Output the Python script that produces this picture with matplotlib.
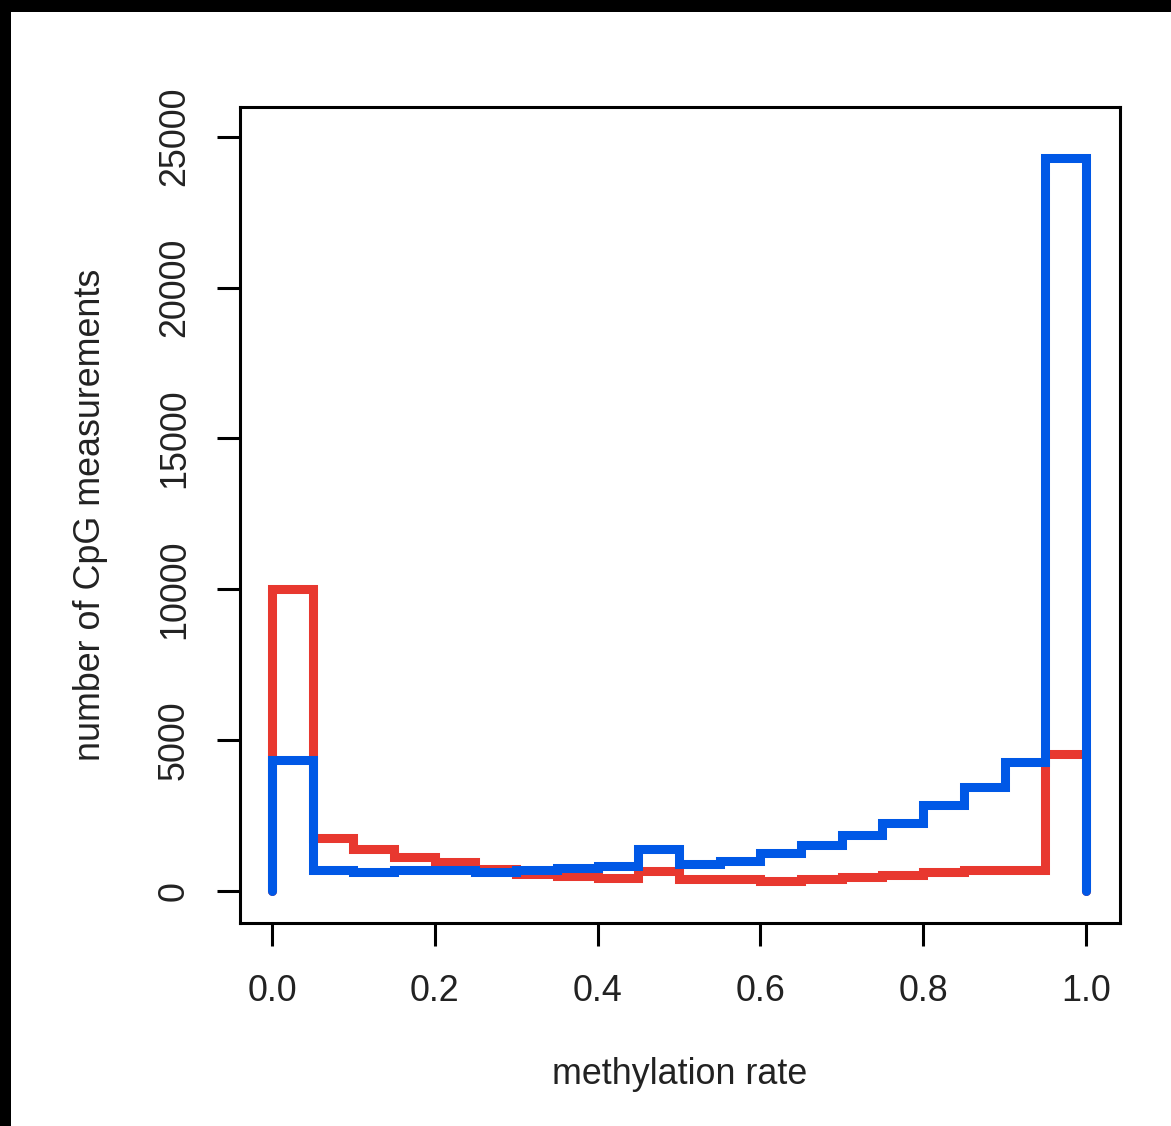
import numpy as np
import matplotlib
matplotlib.use("Agg")
import matplotlib.pyplot as plt
from matplotlib.patches import Rectangle

plt.rcParams['font.family'] = ['Liberation Sans', 'DejaVu Sans']

# Histogram data: bins of width 0.05 over [0, 1]
bin_edges = [0.00, 0.05, 0.10, 0.15, 0.20, 0.25, 0.30, 0.35, 0.40, 0.45, 0.50,
             0.55, 0.60, 0.65, 0.70, 0.75, 0.80, 0.85, 0.90, 0.95, 1.00]
red_counts = [10000, 1750, 1390, 1120, 975, 745, 570, 510, 420, 660,
              405, 405, 345, 400, 475, 545, 613, 690, 690, 4550]
blue_counts = [4350, 686, 620, 686, 686, 615, 700, 760, 815, 1395,
               885, 995, 1270, 1520, 1860, 2255, 2860, 3431, 4270, 24300]

x_ticks = [0.0, 0.2, 0.4, 0.6, 0.8, 1.0]
x_tick_labels = ["0.0", "0.2", "0.4", "0.6", "0.8", "1.0"]
y_ticks = [0, 5000, 10000, 15000, 20000, 25000]
y_tick_labels = ["0", "5000", "10000", "15000", "20000", "25000"]

RED = "#E8382F"
BLUE = "#0058E6"

W, H = 1171, 1126
fig = plt.figure(figsize=(W / 100, H / 100), dpi=100)
fig.patch.set_facecolor("white")

# black border strips (top and left)
fig.patches.append(Rectangle((0, 1 - 12 / H), 1, 12 / H, transform=fig.transFigure,
                             facecolor="black", edgecolor="none", zorder=-1))
fig.patches.append(Rectangle((0, 0), 11 / W, 1, transform=fig.transFigure,
                             facecolor="black", edgecolor="none", zorder=-1))

ax = fig.add_axes([240 / W, (H - 923) / H, 880 / W, 816 / H])

for counts, color in [(red_counts, RED), (blue_counts, BLUE)]:
    st = ax.stairs(counts, bin_edges, baseline=0, fill=False, color=color, linewidth=6.5)
    st.set_capstyle("round")
    st.set_joinstyle("miter")

ax.set_xlim(-0.0393, 1.0418)
ax.set_ylim(-1061, 25986)

ax.set_xticks(x_ticks)
ax.set_xticklabels(x_tick_labels)
ax.set_yticks(y_ticks)
ax.set_yticklabels(y_tick_labels, rotation=90, va="center")

for s in ax.spines.values():
    s.set_linewidth(2.2)
    s.set_color("black")

FS = 25.8
ax.tick_params(axis="both", length=16.5, width=2.2, color="black",
               labelsize=FS, labelcolor="#222222")
ax.tick_params(axis="x", pad=20)
ax.tick_params(axis="y", pad=18)

ax.set_xlabel("methylation rate", fontsize=FS, color="#222222")
ax.set_ylabel("number of CpG measurements", fontsize=FS, color="#222222")
ax.xaxis.label.set_va("center")
ax.yaxis.label.set_va("center")
ax.xaxis.set_label_coords(0.5, (923 - 1075) / 816)
ax.yaxis.set_label_coords((91 - 240) / 880, 0.5)

fig.savefig("out.png", dpi=100, facecolor="white")
